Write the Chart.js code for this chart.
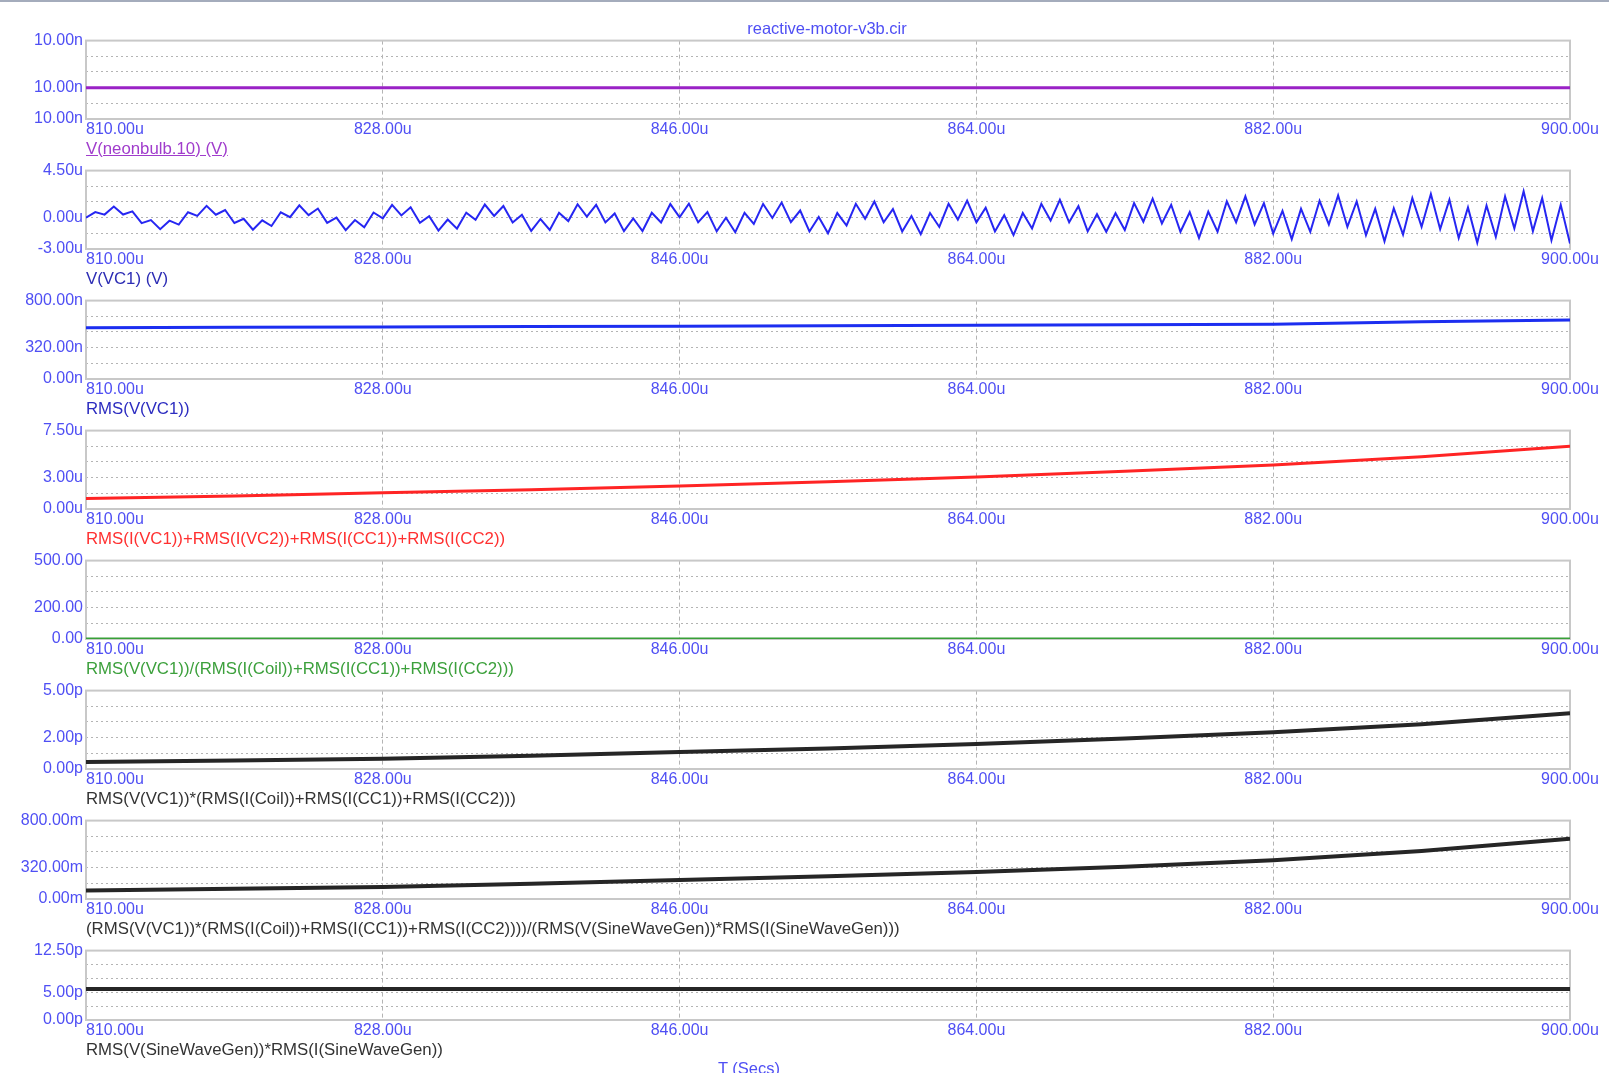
<!DOCTYPE html>
<html>
<head>
<meta charset="utf-8">
<script src="https://cdn.jsdelivr.net/npm/chart.js@4.4.1/dist/chart.umd.min.js"></script>
<style>
  html, body { margin: 0; padding: 0; background: #fff; }
  #page { position: relative; width: 1609px; height: 1073px; overflow: hidden; border-top: 2px solid #a4acbc; box-sizing: border-box; }
  .panel { position: absolute; left: 0; width: 1609px; }
  .txt { position: absolute; font: 16.8px "Liberation Sans", Arial, sans-serif; white-space: nowrap; }
</style>
</head>
<body>
<div id="page"></div>
<script>
// Data
const xTicks = [810, 828, 846, 864, 882, 900];
const xTickLabels = ['810.00u', '828.00u', '846.00u', '864.00u', '882.00u', '900.00u'];

// sample times for the smooth traces (us)
const timeUs = [810, 819, 828, 837, 846, 855, 864, 873, 882, 891, 900];

// V(VC1) is sampled on a fixed step
const vc1Start = 810;
const vc1Step = 0.5625;
const vc1 = [
  0.0, 0.53, 0.29, 1.07, 0.30, 0.60, -0.53, -0.23, -1.10, -0.29,
  -0.67, 0.52, 0.17, 1.13, 0.28, 0.73, -0.51, -0.11, -1.15, -0.26,
  -0.80, 0.51, 0.05, 1.18, 0.24, 0.87, -0.50, 0.01, -1.20, -0.23,
  -0.93, 0.49, -0.07, 1.22, 0.21, 0.99, -0.49, 0.14, -1.24, -0.18,
  -1.05, 0.48, -0.20, 1.25, 0.16, 1.11, -0.47, 0.27, -1.27, -0.13,
  -1.17, 0.47, -0.33, 1.28, 0.10, 1.23, -0.46, 0.40, -1.29, -0.07,
  -1.28, 0.46, -0.47, 1.30, 0.04, 1.34, -0.45, 0.54, -1.31, -0.01,
  -1.39, 0.45, -0.61, 1.31, -0.03, 1.44, -0.44, 0.68, -1.32, 0.07,
  -1.49, 0.44, -0.75, 1.32, -0.11, 1.54, -0.44, 0.82, -1.32, 0.15,
  -1.58, 0.44, -0.89, 1.32, -0.19, 1.63, -0.44, 0.96, -1.32, 0.24,
  -1.67, 0.44, -1.03, 1.32, -0.28, 1.71, -0.45, 1.10, -1.32, 0.33,
  -1.35, 0.42, -1.19, 1.39, -0.39, 1.81, -0.55, 1.23, -1.35, 0.52,
  -1.94, 0.58, -1.35, 1.55, -0.45, 2.03, -0.65, 1.39, -1.52, 0.65,
  -2.06, 0.84, -1.35, 1.61, -0.65, 2.13, -0.87, 1.55, -1.68, 0.84,
  -2.26, 0.90, -1.61, 1.87, -0.87, 2.26, -1.10, 1.71, -1.94, 0.97,
  -2.39, 1.16, -1.84, 2.03, -1.03, 2.52, -1.29, 1.87, -2.16, 1.23,
  -2.48
];

const neonbulbV = [9.9992, 9.9992, 9.9992, 9.9992, 9.9992, 9.9992, 9.9992, 9.9992, 9.9992, 9.9992, 9.9992];
const rmsVc1 = [524, 527, 531, 535, 539, 543, 548, 553, 558, 585, 603];
const rmsCurrents = [1.0, 1.25, 1.55, 1.85, 2.2, 2.6, 3.05, 3.6, 4.2, 5.0, 6.0];
const vOverI = [0.5, 0.45, 0.4, 0.35, 0.3, 0.25, 0.2, 0.18, 0.15, 0.12, 0.1];
const vTimesI = [0.45, 0.55, 0.65, 0.85, 1.08, 1.3, 1.6, 1.95, 2.34, 2.85, 3.55];
const powerRatio = [88, 105, 122, 155, 195, 232, 275, 330, 395, 490, 615];
const genPower = [5.6, 5.6, 5.6, 5.6, 5.6, 5.6, 5.6, 5.6, 5.6, 5.6, 5.6];

const seriesNames = [
  'V(neonbulb.10) (V)',
  'V(VC1) (V)',
  'RMS(V(VC1))',
  'RMS(I(VC1))+RMS(I(VC2))+RMS(I(CC1))+RMS(I(CC2))',
  'RMS(V(VC1))/(RMS(I(Coil))+RMS(I(CC1))+RMS(I(CC2)))',
  'RMS(V(VC1))*(RMS(I(Coil))+RMS(I(CC1))+RMS(I(CC2)))',
  '(RMS(V(VC1))*(RMS(I(Coil))+RMS(I(CC1))+RMS(I(CC2))))/(RMS(V(SineWaveGen))*RMS(I(SineWaveGen)))',
  'RMS(V(SineWaveGen))*RMS(I(SineWaveGen))'
];
const yRanges = [[9.996, 10.004], [-3, 4.5], [0, 800], [0, 7.5], [0, 500], [0, 5], [0, 800], [0, 12.5]];
// labels at bottom, 3rd gridline, top
const yTickLabels = [
  ['10.00n', '10.00n', '10.00n'],
  ['-3.00u', '0.00u', '4.50u'],
  ['0.00n', '320.00n', '800.00n'],
  ['0.00u', '3.00u', '7.50u'],
  ['0.00', '200.00', '500.00'],
  ['0.00p', '2.00p', '5.00p'],
  ['0.00m', '320.00m', '800.00m'],
  ['0.00p', '5.00p', '12.50p']
];

// Styles
const TICK_COLOR = '#4f4ff4';
const GRID_COLOR = '#b4b4b4';
const FONT = '16px "Liberation Sans", Arial, sans-serif';
const lineColors = ['#9a22c6', '#2626f2', '#1c2ef0', '#ff2424', '#38a038', '#262626', '#262626', '#262626'];
const lineWidths = [3, 2, 3, 3, 3, 4, 4, 4];
const nameColors = ['#a03ccc', '#2c2cb4', '#2c2cc0', '#ff3030', '#3ca03c', '#333', '#333', '#333'];
const panelTops = [38, 168, 298, 428, 558, 688, 818, 948];
const panelHeights = [79, 79, 79, 79, 79, 79, 79, 70];
const PLOT_LEFT = 86, PLOT_RIGHT = 1570, PAD_TOP = 12, X_AXIS_H = 24;

Chart.defaults.font.family = '"Liberation Sans", Arial, sans-serif';
Chart.defaults.font.size = 16;

const page = document.getElementById('page');

function addText(text, left, top, color, extra) {
  const d = document.createElement('div');
  d.className = 'txt';
  d.textContent = text;
  d.style.left = left + 'px';
  d.style.top = top + 'px';
  d.style.color = color;
  if (extra) Object.assign(d.style, extra);
  page.appendChild(d);
  return d;
}

const framePlugin = {
  id: 'frame',
  beforeDatasetsDraw(chart) {
    const { ctx, chartArea: a } = chart;
    ctx.save();
    ctx.strokeStyle = '#c8c8c8';
    ctx.lineWidth = 2;
    ctx.strokeRect(a.left, a.top, a.right - a.left, a.bottom - a.top);
    ctx.restore();
  },
  afterDraw(chart) {
    const { ctx, chartArea: a, scales } = chart;
    ctx.save();
    ctx.font = FONT;
    ctx.fillStyle = TICK_COLOR;
    ctx.textBaseline = 'top';
    xTicks.forEach((v, i) => {
      ctx.textAlign = i === 0 ? 'left' : 'center';
      ctx.fillText(xTickLabels[i], scales.x.getPixelForValue(v), a.bottom + 3);
    });
    ctx.restore();
  }
};

function seriesPoints(p) {
  if (p === 1) return vc1.map((v, i) => ({ x: vc1Start + i * vc1Step, y: v }));
  const src = [neonbulbV, null, rmsVc1, rmsCurrents, vOverI, vTimesI, powerRatio, genPower][p];
  return src.map((v, i) => ({ x: timeUs[i], y: v }));
}

function makePanel(p) {
  const top = panelTops[p], h = panelHeights[p];
  const box = document.createElement('div');
  box.className = 'panel';
  box.style.top = (top - PAD_TOP) + 'px';
  box.style.height = (h + PAD_TOP + X_AXIS_H) + 'px';
  const canvas = document.createElement('canvas');
  box.appendChild(canvas);
  page.appendChild(box);

  const [yMin, yMax] = yRanges[p];
  const yVals = [0, 1, 2, 3, 4, 5].map(k => yMin + k * (yMax - yMin) / 5);

  new Chart(canvas, {
    type: 'line',
    data: {
      datasets: [{
        data: seriesPoints(p),
        borderColor: lineColors[p],
        borderWidth: lineWidths[p],
        pointRadius: 0,
        tension: 0,
        fill: false
      }]
    },
    options: {
      responsive: true,
      maintainAspectRatio: false,
      animation: false,
      events: [],
      layout: { padding: { top: PAD_TOP, right: 1609 - PLOT_RIGHT, left: 0, bottom: 0 } },
      plugins: { legend: { display: false }, tooltip: { enabled: false }, title: { display: false } },
      scales: {
        x: {
          type: 'linear',
          min: xTicks[0],
          max: xTicks[xTicks.length - 1],
          afterBuildTicks: s => { s.ticks = xTicks.map(v => ({ value: v })); },
          afterFit: s => { s.height = X_AXIS_H; },
          ticks: { display: false },
          grid: {
            drawTicks: false,
            lineWidth: 1,
            color: c => (c.index === 0 || c.index === xTicks.length - 1) ? 'rgba(0,0,0,0)' : GRID_COLOR
          },
          border: { display: false, dash: [4, 3] }
        },
        y: {
          min: yMin,
          max: yMax,
          afterBuildTicks: s => { s.ticks = yVals.map(v => ({ value: v })); },
          afterFit: s => { s.width = PLOT_LEFT; },
          ticks: {
            autoSkip: false,
            padding: 3,
            color: TICK_COLOR,
            font: { size: 16 },
            callback: (v, i) => i === 0 ? yTickLabels[p][0] : i === 2 ? yTickLabels[p][1] : i === 5 ? yTickLabels[p][2] : ''
          },
          grid: {
            drawTicks: false,
            lineWidth: 1,
            color: c => (c.index === 0 || c.index === 5) ? 'rgba(0,0,0,0)' : GRID_COLOR
          },
          border: { display: false, dash: [2, 3] }
        }
      }
    },
    plugins: [framePlugin]
  });

  addText(seriesNames[p], PLOT_LEFT, top + h + 20, nameColors[p],
    p === 0 ? { textDecoration: 'underline' } : null);
}

for (let p = 0; p < 8; p++) makePanel(p);

addText('reactive-motor-v3b.cir', 0, 17, TICK_COLOR, { width: '1654px', textAlign: 'center', fontSize: '16.5px' });
addText('T (Secs)', 0, 1057, TICK_COLOR, { width: '1498px', textAlign: 'center', fontSize: '16.5px' });
</script>
</body>
</html>
